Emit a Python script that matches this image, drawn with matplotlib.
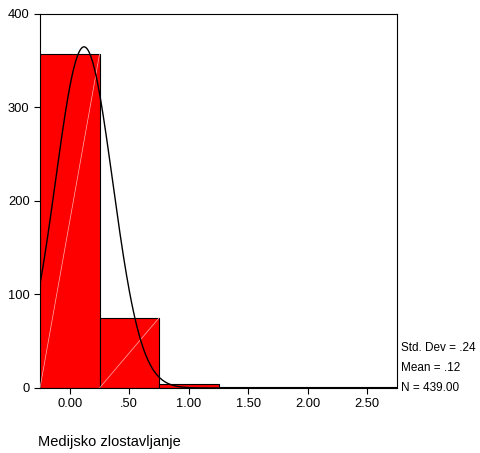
import numpy as np
import matplotlib.pyplot as plt

plt.rcParams['font.family'] = ['Liberation Sans', 'DejaVu Sans']

# histogram of "Medijsko zlostavljanje"
bin_centers = [0.0, 0.5, 1.0, 1.5, 2.0, 2.5]
counts = [357, 75, 4, 1, 1, 1]
bin_width = 0.5
std_dev = 0.24
mean = 0.12
n = 439

fig = plt.figure(figsize=(4.81, 4.53), dpi=100)
ax = fig.add_axes([0.0832, 0.1435, 0.7422, 0.8256])

bars = ax.bar(bin_centers, counts, width=bin_width, color='#ff0000',
              edgecolor='black', linewidth=0.8, zorder=2)

# faint diagonals inside bars (SPSS rendering)
for c, h in zip(bin_centers, counts):
    if h > 10:
        ax.plot([c - bin_width / 2, c + bin_width / 2], [0, h],
                color='#ffb0b0', linewidth=0.5, zorder=3)

# normal curve
xs = np.linspace(-0.25, 2.75, 600)
ys = n * bin_width / (std_dev * np.sqrt(2 * np.pi)) * np.exp(-0.5 * ((xs - mean) / std_dev) ** 2)
ax.plot(xs, ys, color='black', linewidth=1.0, zorder=4)

ax.set_xlim(-0.25, 2.75)
ax.set_ylim(0, 400)
ax.set_xticks([0, 0.5, 1.0, 1.5, 2.0, 2.5])
ax.set_xticklabels(['0.00', '.50', '1.00', '1.50', '2.00', '2.50'])
ax.set_yticks([0, 100, 200, 300, 400])
ax.tick_params(direction='out', length=4, width=0.8, labelsize=9.3)
for s in ax.spines.values():
    s.set_linewidth(0.8)

stats = ['Std. Dev = .24', 'Mean = .12', 'N = 439.00']
for i, t in enumerate(stats):
    fig.text(0.834, (453 - 348 - 20 * i) / 453, t, fontsize=8.5, va='center', ha='left')

fig.text(0.079, (453 - 442) / 453, 'Medijsko zlostavljanje', fontsize=10.5, va='center', ha='left')

fig.savefig('out.png', dpi=100)
